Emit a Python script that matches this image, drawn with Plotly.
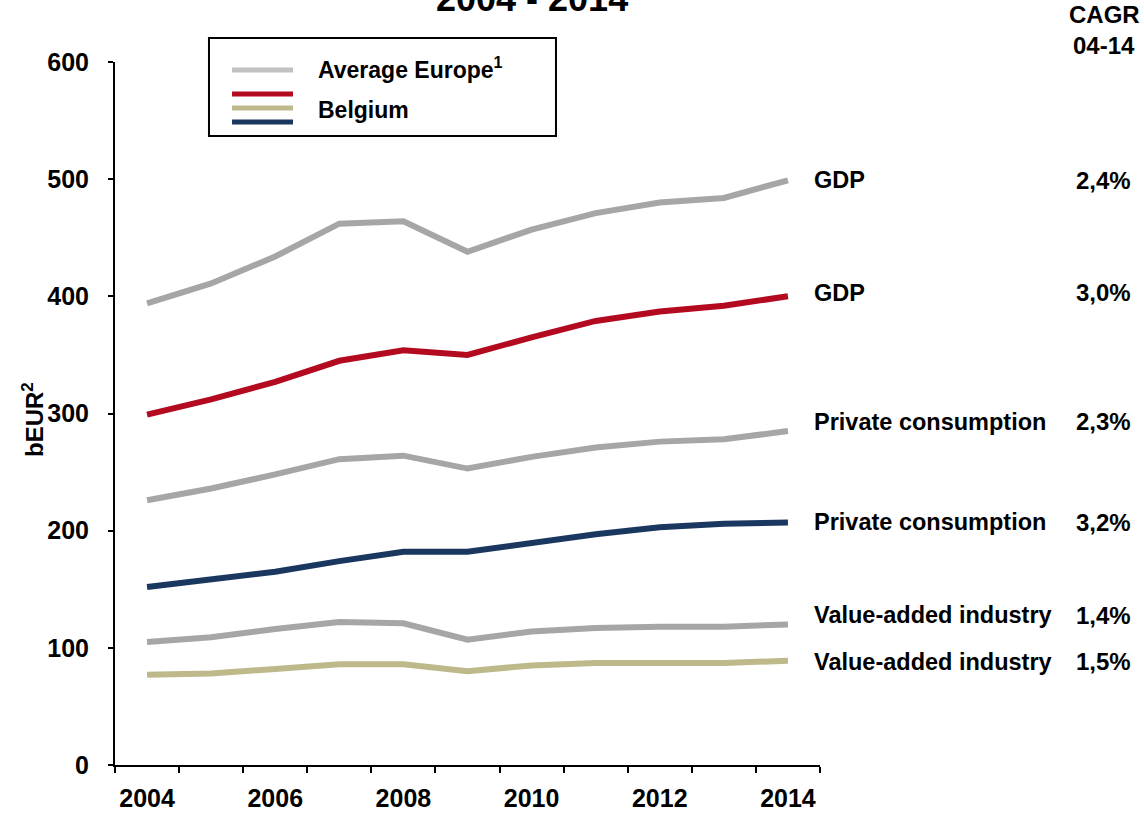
import plotly.graph_objects as go

# Years on the horizontal axis
years = list(range(2004, 2015))

# Values in bEUR (nominal)
europe_gdp = [394, 411, 434, 462, 464, 438, 457, 471, 480, 484, 499]
belgium_gdp = [299, 312, 327, 345, 354, 350, 365, 379, 387, 392, 400]
europe_consumption = [226, 236, 248, 261, 264, 253, 263, 271, 276, 278, 285]
belgium_consumption = [152, 159, 165, 174, 182, 182, 190, 197, 203, 206, 207]
europe_industry = [105, 109, 116, 122, 121, 107, 114, 117, 118, 118, 120]
belgium_industry = [77, 78, 82, 86, 86, 80, 85, 87, 87, 87, 89]

series_names = ["GDP", "GDP", "Private consumption", "Private consumption",
                "Value-added industry", "Value-added industry"]
cagr_labels = ["2,4%", "3,0%", "2,3%", "3,2%", "1,4%", "1,5%"]

GREY = "#A6A6A6"
RED = "#B40A20"
NAVY = "#1A3760"
KHAKI = "#BEB98B"
FONT = "Liberation Sans, Arial, sans-serif"

series = [
    (europe_gdp, GREY, 0),
    (belgium_gdp, RED, 3),
    (europe_consumption, GREY, 8),
    (belgium_consumption, NAVY, 0),
    (europe_industry, GREY, 8),
    (belgium_industry, KHAKI, -1),
]

fig = go.Figure()
for values, color, _ in series:
    fig.add_trace(go.Scatter(
        x=years, y=values, mode="lines",
        line=dict(color=color, width=6),
        showlegend=False, hoverinfo="skip",
    ))

annotations = []
# Series names and growth rates at the right end of each line
for (values, color, nudge), name, cagr in zip(series, series_names, cagr_labels):
    y_lab = values[-1] + nudge
    annotations.append(dict(
        x=0.9887, y=y_lab, xref="paper", yref="y", text="<b>%s</b>" % name,
        showarrow=False, xanchor="left", yanchor="middle",
        font=dict(family=FONT, size=23.5, color="black"),
    ))
    annotations.append(dict(
        x=1.444, y=y_lab, xref="paper", yref="y", text="<b>%s</b>" % cagr,
        showarrow=False, xanchor="right", yanchor="middle",
        font=dict(family=FONT, size=24, color="black"),
    ))

# Title and column header
annotations += [
    dict(x=0.5915, y=1.058, xref="paper", yref="paper", text="<b>2004 - 2014</b>",
         showarrow=False, xanchor="center", yanchor="bottom",
         font=dict(family=FONT, size=36, color="black")),
    dict(x=1.4035, y=1.068, xref="paper", yref="paper", text="<b>CAGR</b>",
         showarrow=False, xanchor="center", yanchor="middle",
         font=dict(family=FONT, size=24, color="black")),
    dict(x=1.4035, y=1.024, xref="paper", yref="paper", text="<b>04-14</b>",
         showarrow=False, xanchor="center", yanchor="middle",
         font=dict(family=FONT, size=24, color="black")),
    # Vertical axis title
    dict(x=-0.1163, y=0.4908, xref="paper", yref="paper",
         text="<b>bEUR<sup>2</sup></b>",
         showarrow=False, textangle=-90, xanchor="center", yanchor="middle",
         font=dict(family=FONT, size=24, color="black")),
    # Legend entries
    dict(x=0.2851, y=0.9915, xref="paper", yref="paper",
         text="<b>Average Europe<sup>1</sup></b>",
         showarrow=False, xanchor="left", yanchor="middle",
         font=dict(family=FONT, size=23, color="black")),
    dict(x=0.2851, y=0.9317, xref="paper", yref="paper", text="<b>Belgium</b>",
         showarrow=False, xanchor="left", yanchor="middle",
         font=dict(family=FONT, size=23, color="black")),
]

# Legend frame and swatches
shapes = [
    dict(type="rect", xref="paper", yref="paper", x0=0.1333, x1=0.6255,
         y0=0.8947, y1=1.0341, line=dict(color="black", width=2),
         fillcolor="white", layer="above"),
]
for y_sw, color in [(0.9886, "#C2C2C2"), (0.9545, RED), (0.9346, KHAKI), (0.9147, NAVY)]:
    shapes.append(dict(type="line", xref="paper", yref="paper", x0=0.1660, x1=0.2525,
                       y0=y_sw, y1=y_sw, line=dict(color=color, width=5), layer="above"))

fig.update_layout(
    width=1144, height=815,
    margin=dict(l=115, r=324, t=62, b=50, autoexpand=False),
    paper_bgcolor="white", plot_bgcolor="white",
    annotations=annotations, shapes=shapes,
    font=dict(family=FONT, color="black"),
)
fig.update_xaxes(
    range=[2003.5, 2014.5],
    tickvals=[2004, 2006, 2008, 2010, 2012, 2014],
    ticktext=["<b>%d</b>" % y for y in [2004, 2006, 2008, 2010, 2012, 2014]],
    ticks="", showgrid=False, zeroline=False,
    showline=True, linecolor="black", linewidth=2,
    tickfont=dict(family=FONT, size=25, color="black"),
    ticklabelstandoff=10,
    minor=dict(tickvals=[y - 0.5 for y in years] + [2014.5], ticks="outside",
               ticklen=6, tickwidth=1.5, tickcolor="black", showgrid=False),
)
fig.update_yaxes(
    range=[0, 600], tickvals=[0, 100, 200, 300, 400, 500, 600],
    ticktext=["<b>%d</b>" % v for v in [0, 100, 200, 300, 400, 500, 600]],
    ticks="outside", ticklen=5, tickwidth=1.5, tickcolor="black",
    showgrid=False, zeroline=False,
    showline=True, linecolor="black", linewidth=2,
    tickfont=dict(family=FONT, size=25, color="black"),
    ticklabelstandoff=14,
)

fig.write_html("out.html")
